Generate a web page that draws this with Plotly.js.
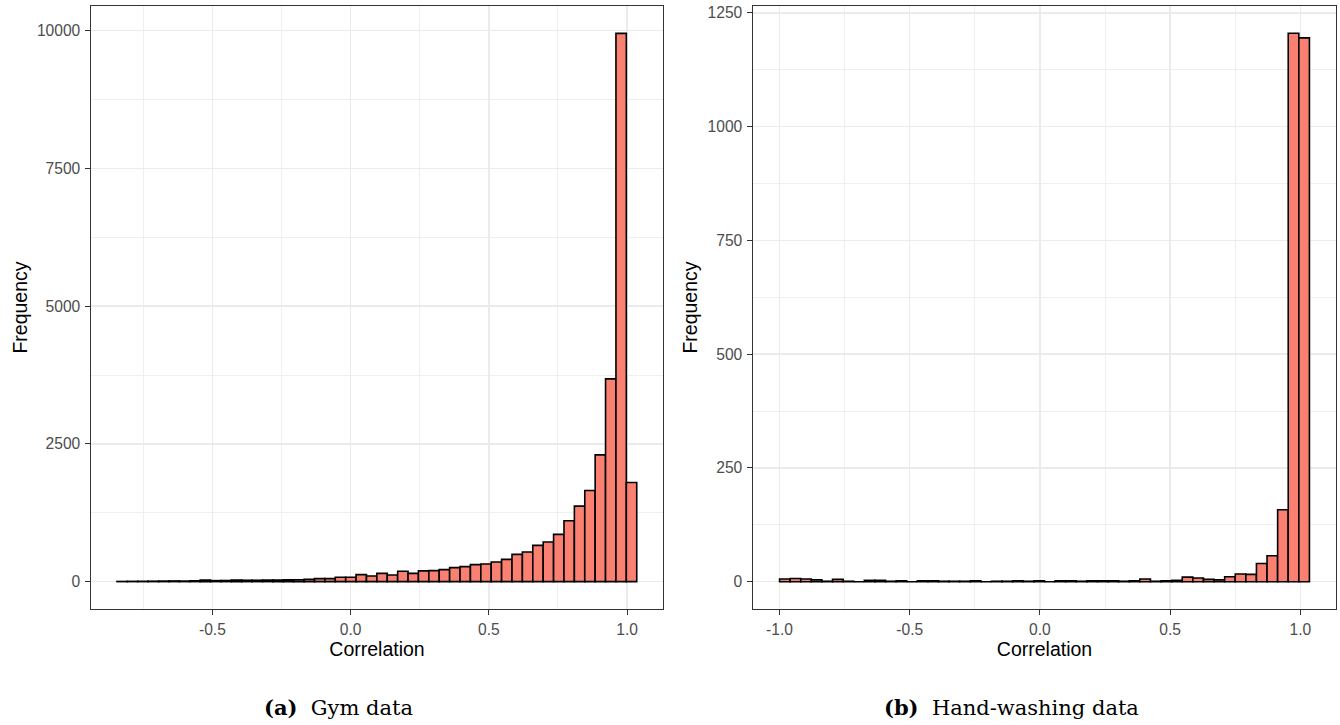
<!DOCTYPE html>
<html>
<head>
<meta charset="utf-8">
<script src="https://cdn.plot.ly/plotly-3.0.1.min.js"></script>
<style>html,body{margin:0;padding:0;background:#fff;}#chart{width:1340px;height:725px;}</style>
</head>
<body>
<div id="chart"></div>
<script>
// ---- Data ----
// (a) Gym data: 50 bins of correlation, frequencies from left to right
const gymFrequency = [3, 5, 6, 8, 10, 12, 10, 15, 30, 18,
                      20, 30, 25, 25, 28, 30, 32, 35, 40, 54,
                      54, 79, 79, 127, 103, 150, 120, 187, 150, 195,
                      200, 218, 254, 272, 308, 320, 356, 404, 495, 537,
                      658, 718, 857, 1105, 1370, 1655, 2300, 3680, 9950, 1800];
const gymBinFirstCenter = -0.8262;
const gymBinWidth = 0.0376;

// (b) Hand-washing data: 50 bins of correlation
const handFrequency = [6, 7, 6, 4, 1, 5, 1, 0, 3, 3,
                       1, 2, 0, 2, 2, 1, 1, 1, 2, 0,
                       1, 1, 2, 1, 2, 0, 2, 2, 1, 2,
                       2, 2, 1, 2, 6, 1, 2, 3, 10, 8,
                       5, 4, 11, 17, 16, 40, 57, 158, 1205, 1195];
const handBinFirstCenter = -0.9797;
const handBinWidth = 0.0407;

const xTickVals = [-1.0, -0.5, 0.0, 0.5, 1.0];
const xTickText = ['-1.0', '-0.5', '0.0', '0.5', '1.0'];
const xMinorVals = [-0.75, -0.25, 0.25, 0.75];
const gymYTicks = [0, 2500, 5000, 7500, 10000];
const gymYMinor = [1250, 3750, 6250, 8750];
const handYTicks = [0, 250, 500, 750, 1000, 1250];
const handYMinor = [125, 375, 625, 875, 1125];

const captionA = '<b>(a)</b>&nbsp;&nbsp;Gym data';
const captionB = '<b>(b)</b>&nbsp;&nbsp;Hand-washing data';
const xTitle = 'Correlation';
const yTitle = 'Frequency';

// ---- Styles ----
const W = 1340, H = 725;
const fill = '#FA8072';
const gridMajor = '#EBEBEB';
const frame = '#333333';
const tickFont = {family: 'Liberation Sans, Arial, sans-serif', size: 15.6, color: '#4D4D4D'};
const titleFont = {family: 'Liberation Sans, Arial, sans-serif', size: 19.5, color: '#000000'};
const captionFont = {family: 'DejaVu Serif, Liberation Serif, serif', size: 21, color: '#000000'};

function px2fx(px) { return px / W; }
function px2fy(py) { return (H - py) / H; }

const traces = [
  {type: 'bar', x0: gymBinFirstCenter, dx: gymBinWidth, y: gymFrequency, width: gymBinWidth,
   xaxis: 'x', yaxis: 'y', marker: {color: fill, line: {color: '#000000', width: 1.6}}, hoverinfo: 'x+y'},
  {type: 'bar', x0: handBinFirstCenter, dx: handBinWidth, y: handFrequency, width: handBinWidth,
   xaxis: 'x2', yaxis: 'y2', marker: {color: fill, line: {color: '#000000', width: 1.6}}, hoverinfo: 'x+y'}
];

function xAxis(domain, range, anchor) {
  return {
    domain: domain, range: range, anchor: anchor,
    tickmode: 'array', tickvals: xTickVals, ticktext: xTickText,
    ticks: 'outside', ticklen: 4.5, tickwidth: 1.07, tickcolor: frame,
    tickfont: tickFont, ticklabelstandoff: 2,
    showgrid: true, gridcolor: gridMajor, gridwidth: 1.4,
    minor: {tickmode: 'array', tickvals: xMinorVals, showgrid: true, gridcolor: gridMajor, gridwidth: 0.8, ticks: ''},
    showline: true, mirror: true, linecolor: frame, linewidth: 1.07,
    zeroline: false, automargin: false,
    title: {text: xTitle, font: titleFont, standoff: 0}
  };
}
function yAxis(domain, range, anchor, ticks, minorTicks, standoff) {
  return {
    domain: domain, range: range, anchor: anchor,
    tickmode: 'array', tickvals: ticks, ticktext: ticks.map(String),
    ticks: 'outside', ticklen: 4.5, tickwidth: 1.07, tickcolor: frame,
    tickfont: tickFont, ticklabelstandoff: 2,
    showgrid: true, gridcolor: gridMajor, gridwidth: 1.4,
    minor: {tickmode: 'array', tickvals: minorTicks, showgrid: true, gridcolor: gridMajor, gridwidth: 0.8, ticks: ''},
    showline: true, mirror: true, linecolor: frame, linewidth: 1.07,
    zeroline: false, automargin: false,
    title: {text: yTitle, font: titleFont, standoff: standoff}
  };
}

const yDomain = [px2fy(609), px2fy(6)];
const layout = {
  width: W, height: H,
  margin: {l: 0, r: 0, t: 0, b: 0, pad: 0},
  paper_bgcolor: '#ffffff', plot_bgcolor: '#ffffff',
  showlegend: false, bargap: 0,
  xaxis: xAxis([px2fx(91), px2fx(663)], [-0.939, 1.13], 'y'),
  yaxis: yAxis(yDomain, [-497, 10447], 'x', gymYTicks, gymYMinor, 4),
  xaxis2: xAxis([px2fx(753), px2fx(1336)], [-1.102, 1.137], 'y2'),
  yaxis2: yAxis(yDomain, [-60, 1265], 'x2', handYTicks, handYMinor, 4),
  annotations: [
    {text: captionA, xref: 'paper', yref: 'paper', x: px2fx(338), y: px2fy(707),
     xanchor: 'center', yanchor: 'middle', showarrow: false, font: captionFont},
    {text: captionB, xref: 'paper', yref: 'paper', x: px2fx(1011), y: px2fy(707),
     xanchor: 'center', yanchor: 'middle', showarrow: false, font: captionFont}
  ]
};

Plotly.newPlot('chart', traces, layout, {staticPlot: true, displayModeBar: false});
</script>
</body>
</html>
